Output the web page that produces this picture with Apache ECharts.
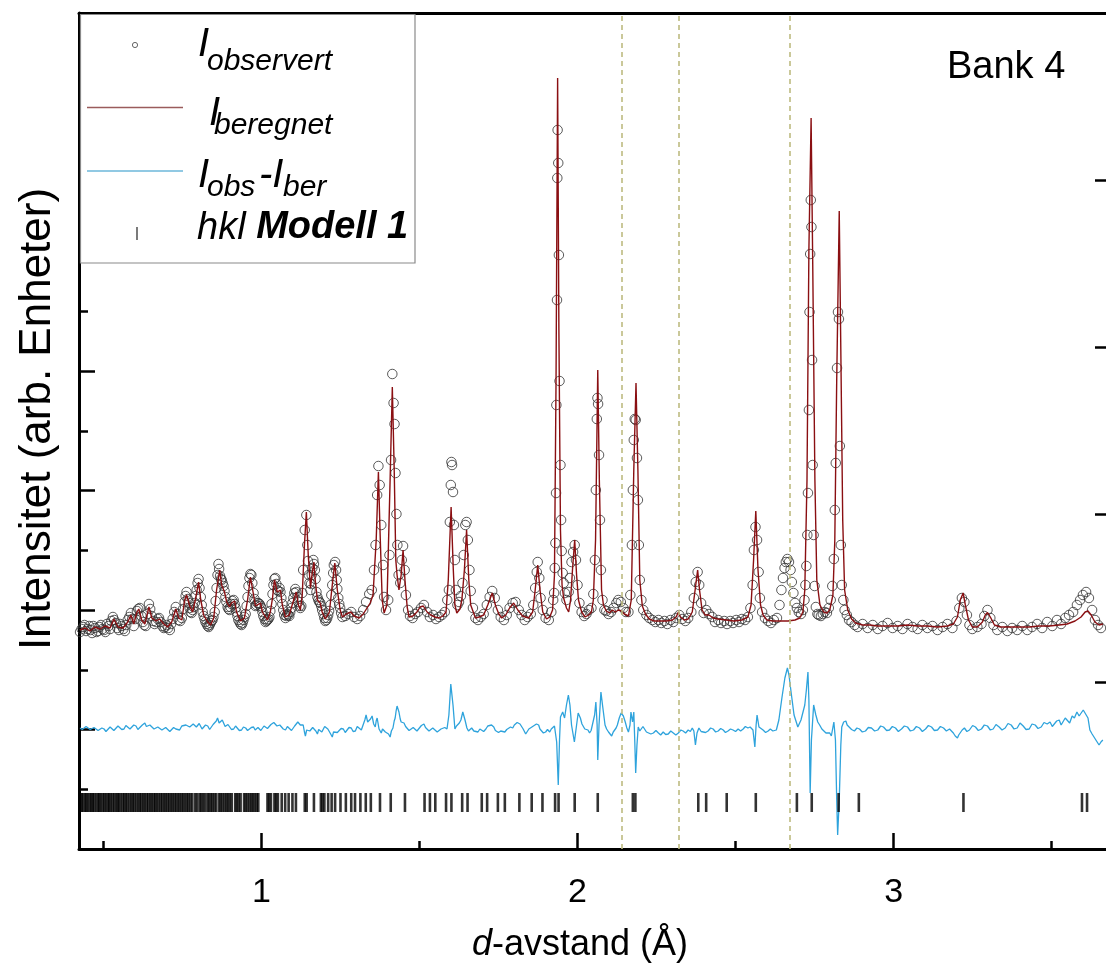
<!DOCTYPE html>
<html>
<head>
<meta charset="utf-8">
<script src="https://cdn.jsdelivr.net/npm/echarts@6/dist/echarts.min.js"></script>
<style>
  html, body { margin: 0; padding: 0; background: #fff; }
  #chart { width: 1106px; height: 966px; }
</style>
</head>
<body>
<div id="chart"></div>
<script>
// Powder diffraction refinement, detector bank 4 (d-spacing in Å, intensity in arbitrary units)
const FONT = '"Liberation Sans", Arial, sans-serif';

const dRange = [0.4227, 3.672];
const dMajorTicks = [1, 2, 3];
const dMinorTicks = [0.5, 1.5, 2.5, 3.5];
const intensityMax = 8360;
const markerPositions = [2.138, 2.317, 2.668];
const hklRowLevel = 465;

// observed intensities [d, I]
const observed = [
[0.426,2170],[0.431,2200],[0.436,2220],[0.440,2240],[0.445,2180],[0.450,2200],[0.455,2230],[0.459,2190],[0.464,2160],[0.468,2230],
[0.473,2210],[0.478,2170],[0.483,2180],[0.487,2220],[0.492,2240],[0.497,2200],[0.502,2190],[0.506,2170],[0.511,2250],[0.516,2230],
[0.521,2200],[0.525,2280],[0.530,2320],[0.534,2290],[0.539,2260],[0.544,2210],[0.549,2190],[0.553,2250],[0.558,2230],[0.563,2200],
[0.568,2180],[0.572,2240],[0.577,2290],[0.582,2320],[0.587,2360],[0.591,2300],[0.596,2230],[0.601,2300],[0.606,2380],[0.610,2400],
[0.615,2410],[0.620,2330],[0.625,2270],[0.629,2240],[0.634,2230],[0.639,2350],[0.644,2450],[0.648,2400],[0.653,2330],[0.658,2280],
[0.662,2250],[0.667,2270],[0.672,2300],[0.676,2310],[0.681,2270],[0.686,2230],[0.691,2210],[0.695,2220],[0.700,2240],[0.705,2210],
[0.710,2190],[0.714,2250],[0.719,2300],[0.724,2370],[0.729,2420],[0.733,2350],[0.738,2290],[0.743,2280],[0.748,2310],[0.752,2400],
[0.757,2470],[0.760,2530],[0.763,2570],[0.767,2500],[0.770,2460],[0.773,2410],[0.776,2370],[0.779,2360],[0.782,2390],[0.785,2420],
[0.789,2460],[0.792,2530],[0.795,2590],[0.798,2660],[0.801,2700],[0.804,2610],[0.808,2520],[0.811,2440],[0.814,2370],[0.817,2330],
[0.820,2300],[0.823,2270],[0.827,2250],[0.830,2230],[0.833,2220],[0.836,2240],[0.839,2260],[0.842,2280],[0.845,2290],[0.848,2320],
[0.852,2370],[0.855,2480],[0.858,2610],[0.861,2740],[0.864,2850],[0.866,2800],[0.869,2730],[0.872,2700],[0.874,2690],[0.877,2660],
[0.880,2630],[0.883,2580],[0.886,2520],[0.889,2470],[0.893,2420],[0.896,2400],[0.899,2390],[0.902,2420],[0.905,2450],[0.908,2480],
[0.912,2490],[0.915,2450],[0.918,2410],[0.921,2370],[0.924,2330],[0.927,2290],[0.931,2270],[0.934,2250],[0.937,2240],[0.940,2260],
[0.943,2290],[0.946,2320],[0.950,2350],[0.953,2430],[0.956,2520],[0.959,2630],[0.962,2710],[0.965,2750],[0.968,2740],[0.971,2660],
[0.975,2560],[0.978,2500],[0.981,2430],[0.984,2440],[0.987,2460],[0.990,2460],[0.994,2450],[0.997,2430],[1.000,2410],[1.003,2370],
[1.006,2330],[1.010,2300],[1.013,2270],[1.016,2280],[1.019,2290],[1.022,2300],[1.025,2320],[1.028,2380],[1.032,2450],[1.035,2550],
[1.038,2640],[1.041,2700],[1.044,2710],[1.047,2650],[1.050,2590],[1.053,2580],[1.057,2610],[1.060,2570],[1.063,2510],[1.066,2450],
[1.069,2390],[1.072,2340],[1.076,2310],[1.079,2330],[1.082,2350],[1.085,2340],[1.088,2330],[1.091,2370],[1.095,2410],[1.098,2460],
[1.101,2510],[1.104,2560],[1.107,2600],[1.110,2570],[1.114,2520],[1.117,2470],[1.120,2430],[1.123,2410],[1.126,2430],[1.129,2560],
[1.132,2790],[1.137,3190],[1.142,3340],[1.145,3040],[1.147,2880],[1.150,2740],[1.152,2660],[1.155,2590],[1.157,2650],[1.159,2740],
[1.161,2810],[1.164,2890],[1.166,2850],[1.169,2790],[1.171,2700],[1.174,2570],[1.177,2520],[1.180,2490],[1.183,2470],[1.186,2460],
[1.189,2430],[1.192,2390],[1.196,2350],[1.199,2310],[1.202,2280],[1.205,2290],[1.208,2310],[1.211,2340],[1.214,2380],[1.218,2440],
[1.221,2540],[1.224,2640],[1.227,2760],[1.229,2840],[1.233,2870],[1.236,2790],[1.238,2690],[1.240,2600],[1.243,2510],[1.246,2450],
[1.249,2410],[1.252,2360],[1.256,2320],
[1.265,2330],[1.274,2350],[1.284,2370],[1.293,2320],[1.303,2300],[1.312,2330],[1.322,2390],[1.331,2470],[1.341,2550],[1.349,2590],
[1.356,2790],[1.361,3040],[1.366,3540],[1.370,3830],[1.374,3640],[1.379,3240],[1.385,2840],[1.388,2520],[1.394,2390],[1.401,2490],
[1.405,2940],[1.410,3890],[1.414,4750],[1.418,4460],[1.421,4250],[1.424,3760],[1.427,3350],[1.430,3040],[1.434,2740],[1.439,2660],
[1.444,2890],[1.448,3030],[1.453,2790],[1.457,2540],[1.464,2390],[1.470,2330],[1.478,2310],[1.486,2350],[1.495,2370],[1.505,2410],
[1.514,2440],[1.524,2370],[1.533,2320],[1.543,2340],[1.552,2300],[1.562,2320],[1.571,2340],[1.580,2370],[1.588,2490],[1.593,2590],
[1.596,3270],[1.599,3640],[1.601,3870],[1.603,3840],[1.606,3570],[1.609,3240],[1.612,2890],[1.615,2590],[1.620,2440],[1.625,2470],
[1.631,2530],[1.636,2660],[1.640,2940],[1.645,3240],[1.649,3270],[1.653,3090],[1.658,2790],[1.662,2580],[1.669,2410],[1.677,2310],
[1.685,2290],[1.694,2320],[1.703,2350],[1.713,2440],[1.722,2520],[1.730,2580],[1.738,2510],[1.748,2390],[1.757,2320],[1.767,2290],
[1.776,2340],[1.785,2410],[1.795,2460],[1.804,2470],[1.814,2390],[1.823,2340],[1.833,2290],[1.842,2320],[1.852,2350],[1.860,2440],
[1.866,2610],[1.871,2770],[1.874,2870],[1.879,2710],[1.883,2510],[1.890,2390],[1.899,2310],[1.909,2290],[1.917,2370],[1.923,2490],
[1.926,2560],[1.928,2810],[1.930,3060],[1.932,3560],[1.933,4440],[1.935,5490],[1.936,6710],[1.937,7190],[1.939,6860],[1.941,5940],
[1.943,4680],[1.946,3840],[1.948,3290],[1.950,2980],[1.953,2760],[1.956,2660],[1.960,2560],[1.965,2490],[1.972,2570],[1.976,2710],
[1.981,2870],[1.986,2970],[1.991,3040],[1.995,2890],[2.000,2640],[2.006,2460],[2.013,2370],[2.021,2330],[2.028,2350],[2.036,2390],
[2.044,2410],[2.050,2550],[2.055,2890],[2.058,3590],[2.061,4300],[2.063,4510],[2.065,4450],[2.068,3940],[2.071,3290],[2.074,2790],
[2.079,2490],[2.085,2390],[2.091,2380],[2.098,2350],[2.106,2370],[2.114,2410],[2.123,2460],[2.129,2490],[2.137,2470],[2.145,2410],
[2.153,2370],[2.161,2370],[2.167,2540],[2.172,3040],[2.175,3590],[2.178,4090],[2.181,4300],[2.184,4290],[2.188,3910],[2.191,3490],
[2.194,3040],[2.197,2690],[2.202,2490],[2.208,2390],[2.218,2340],[2.227,2310],[2.237,2290],[2.246,2270],[2.256,2290],[2.265,2260],
[2.275,2280],[2.284,2250],[2.294,2290],[2.303,2270],[2.312,2310],[2.322,2340],[2.331,2300],[2.341,2280],[2.350,2310],[2.360,2370],
[2.368,2510],[2.374,2670],[2.380,2770],[2.385,2640],[2.391,2460],[2.399,2360],[2.407,2390],[2.416,2350],[2.426,2320],[2.435,2270],
[2.445,2290],[2.454,2260],[2.464,2280],[2.473,2250],[2.483,2280],[2.492,2260],[2.502,2290],[2.511,2270],[2.520,2300],[2.530,2290],
[2.539,2320],[2.547,2410],[2.554,2640],[2.558,2990],[2.563,3220],[2.568,3090],[2.573,2770],[2.577,2510],[2.584,2370],[2.593,2310],
[2.603,2280],[2.612,2260],[2.621,2290],[2.631,2310],[2.639,2440],[2.645,2590],[2.650,2710],[2.655,2810],[2.659,2870],[2.664,2900],
[2.669,2870],[2.674,2790],[2.678,2670],[2.683,2560],[2.688,2460],[2.694,2410],[2.700,2370],[2.707,2350],[2.713,2390],[2.718,2490],
[2.721,2640],[2.724,2830],[2.727,3140],[2.729,3560],[2.732,4390],[2.734,5370],[2.736,5950],[2.738,6490],[2.740,6220],[2.742,4890],
[2.744,3840],[2.747,3140],[2.750,2630],[2.754,2420],[2.759,2350],[2.763,2340],[2.770,2330],[2.776,2350],[2.782,2370],[2.789,2360],
[2.795,2410],[2.801,2490],[2.806,2630],[2.811,2900],[2.814,3390],[2.817,3860],[2.821,4810],[2.824,5370],[2.827,5300],[2.830,4030],
[2.833,3040],[2.836,2640],[2.841,2490],[2.845,2390],[2.852,2340],[2.859,2290],[2.867,2270],[2.877,2240],[2.886,2220],[2.902,2250],
[2.918,2210],[2.934,2240],[2.950,2200],[2.965,2230],[2.981,2260],[2.997,2210],[3.013,2230],[3.028,2200],[3.044,2250],[3.060,2220],
[3.076,2200],[3.091,2240],[3.107,2210],[3.123,2230],[3.139,2190],[3.155,2220],[3.170,2250],[3.186,2210],[3.199,2280],[3.208,2410],
[3.216,2510],[3.224,2470],[3.232,2340],[3.240,2240],[3.249,2200],[3.265,2220],[3.278,2250],[3.287,2330],[3.297,2390],[3.306,2310],
[3.316,2240],[3.328,2190],[3.344,2220],[3.360,2180],[3.375,2210],[3.391,2190],[3.407,2230],[3.423,2190],[3.438,2220],[3.454,2250],
[3.470,2210],[3.486,2270],[3.502,2230],[3.517,2290],[3.530,2250],[3.543,2310],[3.555,2340],[3.568,2370],[3.580,2440],[3.590,2490],
[3.599,2540],[3.609,2570],[3.618,2510],[3.628,2390],[3.637,2290],[3.647,2240],[3.656,2210]
];

// calculated profile [d, I]
const calculated = [
[0.426,2190],[0.442,2210],[0.457,2180],[0.473,2220],[0.489,2200],[0.505,2230],[0.521,2210],[0.533,2300],[0.546,2220],[0.562,2210],
[0.577,2270],[0.587,2340],[0.596,2250],[0.606,2370],[0.612,2400],[0.621,2290],[0.631,2250],[0.644,2420],[0.653,2310],[0.666,2280],
[0.678,2300],[0.691,2250],[0.703,2220],[0.716,2270],[0.729,2400],[0.738,2310],[0.748,2290],[0.757,2490],[0.763,2540],[0.773,2430],
[0.782,2370],[0.792,2510],[0.801,2670],[0.808,2490],[0.817,2340],[0.830,2270],[0.839,2240],[0.849,2310],[0.858,2590],[0.868,2790],
[0.874,2640],[0.883,2570],[0.890,2470],[0.899,2420],[0.905,2460],[0.915,2480],[0.921,2370],[0.934,2280],[0.946,2310],[0.956,2490],
[0.965,2720],[0.975,2540],[0.981,2430],[0.987,2440],[0.997,2460],[1.003,2370],[1.019,2290],[1.028,2370],[1.035,2510],[1.041,2690],
[1.050,2570],[1.060,2590],[1.066,2440],[1.076,2320],[1.088,2340],[1.098,2450],[1.110,2570],[1.117,2440],[1.123,2390],[1.129,2540],
[1.136,3040],[1.142,3370],[1.148,2940],[1.155,2610],[1.161,2770],[1.166,2870],[1.170,2690],[1.177,2490],[1.186,2460],[1.192,2370],
[1.202,2300],[1.215,2370],[1.224,2640],[1.232,2860],[1.240,2590],[1.249,2390],[1.256,2320],
[1.268,2350],[1.283,2370],[1.293,2330],[1.309,2310],[1.322,2350],[1.334,2410],[1.344,2460],[1.353,2540],[1.363,3090],[1.370,3770],
[1.375,3190],[1.382,2490],[1.388,2360],[1.397,2440],[1.407,3690],[1.414,4620],[1.420,3790],[1.425,2890],[1.429,2740],[1.435,2590],
[1.442,2740],[1.448,2990],[1.454,2690],[1.461,2420],[1.467,2320],[1.479,2330],[1.492,2370],[1.502,2420],[1.512,2430],[1.524,2370],
[1.536,2340],[1.549,2320],[1.562,2310],[1.574,2330],[1.584,2370],[1.591,2690],[1.600,3420],[1.607,2790],[1.612,2440],[1.618,2360],
[1.628,2400],[1.634,2490],[1.642,2790],[1.649,3190],[1.656,2690],[1.662,2440],[1.677,2310],[1.688,2320],[1.703,2340],[1.716,2440],
[1.730,2560],[1.741,2430],[1.751,2350],[1.760,2310],[1.773,2340],[1.785,2410],[1.798,2460],[1.811,2390],[1.826,2330],[1.845,2310],
[1.858,2370],[1.866,2590],[1.874,2840],[1.882,2570],[1.890,2370],[1.902,2300],[1.912,2320],[1.921,2390],[1.927,2740],[1.932,4690],
[1.937,7710],[1.941,5190],[1.946,3190],[1.951,2640],[1.956,2510],[1.965,2410],[1.972,2370],[1.978,2490],[1.984,2790],[1.991,3090],
[1.997,2740],[2.003,2490],[2.013,2370],[2.024,2320],
[2.035,2340],[2.044,2370],[2.050,2490],[2.057,3090],[2.064,4790],[2.069,3690],[2.076,2590],[2.082,2440],[2.091,2380],[2.101,2360],
[2.110,2390],[2.120,2370],[2.129,2390],[2.139,2380],[2.148,2350],[2.161,2330],[2.170,2490],[2.178,3790],[2.185,4660],[2.191,3790],
[2.197,2690],[2.205,2430],[2.215,2350],[2.227,2300],[2.243,2280],[2.262,2280],[2.281,2280],[2.300,2290],[2.312,2320],[2.319,2370],
[2.325,2320],[2.338,2290],[2.350,2300],[2.363,2370],[2.372,2590],[2.380,2790],[2.386,2590],[2.394,2390],[2.404,2340],[2.416,2340],
[2.429,2310],[2.445,2300],[2.470,2290],[2.495,2280],[2.520,2290],[2.539,2320],[2.549,2440],[2.557,2890],[2.564,3380],[2.571,2790],
[2.579,2440],[2.587,2340],[2.599,2290],[2.618,2280],[2.640,2280],[2.666,2280],[2.688,2290],[2.703,2310],[2.713,2370],[2.719,2590],
[2.726,3690],[2.732,5990],[2.739,7310],[2.744,5890],[2.751,3690],[2.757,2690],[2.767,2440],[2.779,2370],[2.789,2360],[2.798,2390],
[2.808,2540],[2.814,3090],[2.820,4690],[2.828,6380],[2.833,4990],[2.839,3290],[2.845,2590],[2.855,2390],[2.867,2300],[2.880,2260],
[2.902,2240],[2.924,2240],[2.950,2230],[2.981,2230],[3.013,2230],[3.044,2240],[3.076,2230],[3.107,2230],[3.139,2220],[3.170,2230],
[3.189,2250],[3.202,2320],[3.211,2490],[3.220,2560],[3.227,2440],[3.237,2290],[3.249,2220],[3.265,2220],[3.281,2270],[3.290,2340],
[3.297,2365],[3.306,2320],[3.319,2240],[3.338,2220],[3.366,2220],[3.397,2220],[3.429,2220],[3.461,2230],[3.492,2230],[3.524,2240],
[3.549,2250],[3.574,2280],[3.593,2320],[3.606,2370],[3.615,2380],[3.625,2340],[3.637,2270],[3.650,2240],[3.662,2250]
];

// observed minus calculated, drawn shifted below the pattern [d, I]
const difference = [
[0.426,1210],[0.433,1195],[0.439,1190],[0.445,1225],[0.451,1220],[0.458,1195],[0.464,1180],[0.470,1215],[0.476,1200],[0.483,1185],
[0.489,1170],[0.495,1210],[0.502,1200],[0.508,1175],[0.514,1180],[0.521,1220],[0.527,1210],[0.533,1185],[0.539,1190],[0.546,1230],
[0.552,1220],[0.558,1195],[0.565,1200],[0.571,1235],[0.577,1250],[0.584,1200],[0.590,1210],[0.596,1240],[0.603,1230],[0.609,1195],
[0.615,1200],[0.623,1240],[0.631,1260],[0.636,1225],[0.640,1210],[0.647,1240],[0.653,1230],[0.660,1200],[0.666,1190],[0.672,1220],
[0.678,1210],[0.685,1190],[0.691,1180],[0.697,1215],[0.703,1200],[0.710,1175],[0.716,1180],[0.722,1215],[0.729,1200],[0.735,1185],
[0.741,1190],[0.748,1230],[0.754,1220],[0.761,1240],[0.767,1260],[0.773,1220],[0.779,1200],[0.784,1250],[0.789,1270],[0.794,1220],
[0.798,1210],[0.803,1255],[0.808,1250],[0.812,1200],[0.817,1190],[0.823,1240],[0.830,1230],[0.836,1195],[0.842,1200],[0.847,1245],
[0.852,1250],[0.857,1280],[0.861,1310],[0.866,1260],[0.871,1250],[0.876,1290],[0.880,1270],[0.885,1225],[0.890,1210],[0.894,1245],
[0.899,1230],[0.905,1195],[0.912,1200],[0.918,1230],[0.924,1220],[0.930,1185],[0.937,1190],[0.943,1220],[0.950,1210],[0.956,1185],
[0.962,1180],[0.968,1215],[0.975,1220],[0.980,1190],[0.984,1180],[0.989,1215],[0.994,1210],[0.998,1185],[1.003,1190],[1.008,1230],
[1.013,1230],[1.019,1205],[1.025,1200],[1.030,1245],[1.035,1240],[1.039,1265],[1.044,1280],[1.049,1230],[1.054,1210],[1.058,1240],
[1.063,1230],[1.069,1200],[1.076,1190],[1.082,1225],[1.088,1220],[1.095,1185],[1.101,1190],[1.105,1230],[1.110,1240],[1.115,1270],
[1.120,1290],[1.123,1240],[1.126,1220],[1.129,1250],[1.132,1240],[1.136,1170],[1.139,1130],[1.143,1190],[1.148,1210],[1.153,1180],
[1.158,1170],[1.162,1215],[1.167,1220],[1.172,1180],[1.177,1150],[1.181,1195],[1.186,1200],[1.191,1170],[1.196,1180],[1.200,1225],
[1.205,1230],[1.210,1200],[1.215,1190],[1.219,1150],[1.224,1120],[1.228,1170],[1.233,1190],[1.240,1165],[1.246,1160],[1.252,1205],
[1.259,1200],[1.265,1165],[1.271,1170],[1.277,1215],[1.284,1210],[1.290,1175],[1.297,1180],[1.303,1225],[1.309,1220],[1.316,1190],
[1.322,1200],[1.327,1290],[1.331,1340],[1.336,1270],[1.341,1250],[1.345,1300],[1.350,1330],[1.355,1250],[1.360,1220],[1.363,1280],
[1.366,1310],[1.372,1200],[1.379,1160],[1.383,1200],[1.388,1210],[1.392,1170],[1.397,1180],[1.402,1150],[1.407,1120],[1.411,1180],
[1.416,1210],[1.420,1280],[1.423,1310],[1.426,1380],[1.429,1430],[1.432,1400],[1.435,1370],[1.439,1300],[1.442,1270],[1.446,1280],
[1.451,1260],[1.456,1225],[1.461,1210],[1.467,1185],[1.473,1190],[1.480,1215],[1.486,1200],[1.492,1180],[1.498,1190],[1.506,1235],
[1.514,1250],[1.519,1215],[1.524,1200],[1.530,1180],[1.536,1190],[1.542,1210],[1.549,1190],[1.556,1170],[1.562,1180],[1.568,1200],
[1.574,1190],[1.580,1215],[1.587,1200],[1.593,1340],[1.599,1650],[1.606,1440],[1.612,1200],[1.617,1230],[1.621,1220],[1.626,1260],
[1.631,1290],[1.637,1370],[1.644,1290],[1.650,1210],[1.655,1180],[1.659,1190],[1.665,1210],[1.672,1180],[1.678,1160],[1.685,1170],
[1.691,1200],[1.697,1190],[1.703,1175],[1.710,1200],[1.716,1230],[1.722,1220],[1.728,1240],[1.735,1220],[1.740,1185],[1.744,1200],
[1.750,1165],[1.757,1180],[1.763,1200],[1.770,1170],[1.776,1195],[1.782,1180],[1.788,1220],[1.795,1210],[1.800,1240],[1.804,1260],
[1.809,1265],[1.814,1280],[1.818,1250],[1.823,1230],[1.828,1200],[1.833,1180],[1.836,1150],[1.839,1160],[1.846,1200],[1.852,1190],
[1.858,1225],[1.864,1210],[1.870,1250],[1.877,1240],[1.881,1200],[1.886,1190],[1.892,1160],[1.899,1170],[1.905,1195],[1.912,1170],
[1.917,1200],[1.921,1210],[1.927,1230],[1.934,1070],[1.939,640],[1.943,1090],[1.946,1320],[1.953,1370],[1.959,1310],[1.965,1440],
[1.971,1540],[1.976,1440],[1.981,1240],[1.990,1070],[1.997,1240],[2.002,1360],[2.009,1310],[2.014,1250],[2.019,1230],[2.023,1200],
[2.028,1180],[2.033,1190],[2.038,1160],[2.043,1185],[2.047,1170],[2.054,1340],[2.058,1470],[2.062,1240],[2.064,890],[2.068,1240],
[2.074,1570],[2.079,1440],[2.087,1240],[2.092,1200],[2.098,1170],[2.103,1150],[2.108,1130],[2.113,1170],[2.117,1160],[2.122,1210],
[2.126,1240],[2.132,1310],[2.138,1360],[2.145,1330],[2.151,1270],[2.156,1210],[2.161,1170],[2.166,1240],[2.169,1370],[2.174,1270],
[2.178,1370],[2.181,1090],[2.184,760],[2.188,1040],[2.192,1220],[2.197,1180],[2.202,1190],[2.207,1225],[2.211,1210],[2.218,1170],
[2.224,1180],[2.232,1150],[2.240,1160],[2.248,1185],[2.256,1160],[2.263,1140],[2.271,1170],[2.279,1145],[2.287,1150],[2.295,1180],
[2.303,1160],[2.311,1140],[2.319,1160],[2.327,1190],[2.334,1180],[2.342,1160],[2.350,1190],[2.357,1175],[2.363,1210],[2.368,1180],
[2.373,1040],[2.378,1160],[2.384,1210],[2.391,1175],[2.397,1190],[2.405,1165],[2.413,1180],[2.421,1210],[2.429,1200],[2.437,1170],
[2.445,1180],[2.453,1205],[2.461,1190],[2.468,1165],[2.476,1180],[2.484,1200],[2.492,1190],[2.500,1175],[2.508,1200],[2.516,1180],
[2.524,1200],[2.531,1225],[2.539,1210],[2.546,1220],[2.555,1190],[2.561,1020],[2.565,1240],[2.568,1340],[2.574,1220],[2.580,1200],
[2.587,1190],[2.595,1165],[2.603,1180],[2.610,1200],[2.618,1180],[2.624,1170],[2.629,1190],[2.637,1290],[2.647,1520],[2.656,1710],
[2.664,1810],[2.669,1740],[2.676,1560],[2.685,1340],[2.697,1220],[2.707,1290],[2.719,1440],[2.724,1590],[2.729,1770],[2.732,1490],
[2.736,560],[2.740,1090],[2.747,1440],[2.754,1340],[2.760,1270],[2.766,1240],[2.773,1200],[2.779,1180],[2.786,1160],[2.792,1140],
[2.798,1160],[2.803,1130],[2.811,1270],[2.816,1090],[2.820,490],[2.823,140],[2.828,490],[2.833,1040],[2.836,1220],[2.842,1270],
[2.849,1280],[2.853,1240],[2.858,1220],[2.867,1195],[2.876,1180],[2.884,1210],[2.892,1200],[2.901,1170],[2.911,1180],[2.920,1215],
[2.930,1210],[2.940,1180],[2.950,1190],[2.959,1230],[2.968,1220],[2.978,1185],[2.987,1190],[2.996,1225],[3.006,1210],[3.015,1175],
[3.025,1200],[3.034,1230],[3.044,1220],[3.053,1180],[3.063,1190],[3.072,1225],[3.082,1210],[3.091,1175],[3.101,1200],[3.110,1235],
[3.120,1220],[3.129,1185],[3.139,1190],[3.148,1225],[3.158,1210],[3.167,1180],[3.177,1200],[3.183,1185],[3.189,1160],[3.195,1130],
[3.202,1110],[3.206,1140],[3.211,1160],[3.217,1190],[3.224,1210],[3.232,1175],[3.240,1190],[3.250,1235],[3.259,1220],[3.268,1185],
[3.278,1200],[3.287,1240],[3.297,1230],[3.306,1190],[3.315,1200],[3.324,1245],[3.334,1220],[3.343,1190],[3.353,1210],[3.362,1255],
[3.372,1240],[3.381,1200],[3.391,1210],[3.400,1260],[3.410,1230],[3.419,1195],[3.429,1200],[3.438,1250],[3.448,1240],[3.457,1205],
[3.467,1220],[3.476,1265],[3.486,1250],[3.495,1270],[3.502,1225],[3.508,1240],[3.516,1280],[3.524,1290],[3.530,1240],[3.536,1250],
[3.543,1310],[3.549,1300],[3.557,1260],[3.565,1330],[3.572,1310],[3.580,1370],[3.587,1330],[3.593,1350],[3.600,1390],[3.606,1380],
[3.615,1310],[3.621,1190],[3.628,1150],[3.634,1120],[3.642,1080],[3.650,1040],[3.656,1070],[3.662,1090]
];

// reflection positions of the structure model (d, Å)
const hklPositions = [
0.427,0.431,0.436,0.442,0.446,0.451,0.457,0.462,0.466,0.471,0.477,0.483,0.487,0.492,0.498,0.503,0.508,0.514,0.518,0.523,
0.529,0.534,0.540,0.545,0.549,0.555,0.561,0.566,0.571,0.576,0.582,0.588,0.593,0.598,0.604,0.610,0.615,0.620,0.626,0.631,
0.637,0.642,0.648,0.653,0.659,0.664,0.669,0.675,0.681,0.686,0.692,0.697,0.703,0.708,0.714,0.719,0.725,0.730,0.736,0.741,
0.747,0.752,0.758,0.764,0.769,0.775,0.781,0.790,0.796,0.804,0.809,0.815,0.821,0.829,0.834,0.840,0.845,0.851,0.857,0.866,
0.871,0.877,0.883,0.889,0.894,0.900,0.906,0.917,0.922,0.928,0.934,0.945,0.950,0.956,0.962,0.968,0.973,0.979,0.985,0.990,
1.019,1.024,1.030,1.041,1.046,1.052,1.064,1.075,1.086,1.098,1.109,1.137,1.143,1.166,1.188,1.193,1.199,1.211,1.222,1.233,
1.250,1.267,1.284,1.296,1.313,1.330,1.346,1.375,1.409,1.454,1.516,1.533,1.550,1.584,1.601,1.635,1.652,1.697,1.714,1.748,
1.770,1.816,1.855,1.889,1.929,1.940,1.991,2.064,2.175,2.183,2.382,2.407,2.472,2.564,2.694,2.741,2.826,2.890,3.221,3.596,3.612
];

const chart = echarts.init(document.getElementById('chart'), null, { renderer: 'canvas' });

const axisBlack = { color: '#000', width: 3 };
const hiddenAxisParts = { axisLabel: { show: false }, splitLine: { show: false } };

const option = {
  animation: false,
  backgroundColor: '#fff',
  grid: { left: 79, right: -3, top: 13, bottom: 117, containLabel: false },
  xAxis: [
    {
      type: 'value', min: dRange[0], max: dRange[1], position: 'bottom',
      axisLine: { show: true, onZero: false, lineStyle: axisBlack },
      axisTick: { show: true, inside: true, length: 16, customValues: dMajorTicks, lineStyle: { color: '#000', width: 2.5 } },
      axisLabel: { show: true, customValues: dMajorTicks, fontSize: 34, fontFamily: FONT, color: '#000', margin: 27 },
      splitLine: { show: false }
    },
    {
      type: 'value', min: dRange[0], max: dRange[1], position: 'bottom',
      axisLine: { show: false },
      axisTick: { show: true, inside: true, length: 8, customValues: dMinorTicks, lineStyle: { color: '#000', width: 2.5 } },
      ...hiddenAxisParts
    },
    {
      type: 'value', min: dRange[0], max: dRange[1], position: 'top',
      axisLine: { show: true, onZero: false, lineStyle: axisBlack },
      axisTick: { show: false },
      ...hiddenAxisParts
    }
  ],
  yAxis: [
    {
      type: 'value', min: 0, max: intensityMax, interval: intensityMax / 7, position: 'left',
      axisLine: { show: true, onZero: false, lineStyle: axisBlack },
      axisTick: { show: true, inside: true, length: 16, lineStyle: { color: '#000', width: 2.5 } },
      minorTick: { show: true, splitNumber: 2, length: 9, lineStyle: { color: '#000', width: 2.5 } },
      minorSplitLine: { show: false },
      ...hiddenAxisParts
    },
    {
      type: 'value', min: 0, max: 5, interval: 1, position: 'right',
      axisLine: { show: false },
      axisTick: { show: true, inside: true, length: 11, lineStyle: { color: '#000', width: 2.5 } },
      ...hiddenAxisParts
    }
  ],
  series: [
    {
      name: 'observert', type: 'scatter', data: observed,
      symbol: 'circle', symbolSize: 9.5, z: 2,
      itemStyle: { color: 'rgba(0,0,0,0)', borderColor: '#333', borderWidth: 0.95, opacity: 0.85 },
      emphasis: { disabled: true }
    },
    {
      name: 'beregnet', type: 'line', data: calculated, showSymbol: false, z: 3,
      lineStyle: { color: '#8a0f12', width: 1.4 },
      emphasis: { disabled: true },
      markLine: {
        silent: true, symbol: 'none', label: { show: false },
        lineStyle: { type: [5, 4], color: '#bdbb80', width: 1.6, opacity: 1 },
        data: markerPositions.map(d => ({ xAxis: d }))
      }
    },
    {
      name: 'differanse', type: 'line', data: difference, showSymbol: false, z: 3,
      lineStyle: { color: '#2ea3dc', width: 1.3 },
      emphasis: { disabled: true }
    },
    {
      name: 'hkl', type: 'scatter', data: hklPositions.map(d => [d, hklRowLevel]),
      symbol: 'rect', symbolSize: [2.6, 19], z: 4,
      itemStyle: { color: '#000' },
      emphasis: { disabled: true }
    }
  ],
  graphic: [
    // legend box
    { type: 'rect', z: 100, shape: { x: 80.5, y: 14.5, width: 334.5, height: 248.5 },
      style: { fill: '#fff', stroke: '#8a8a8a', lineWidth: 1.2 } },
    { type: 'circle', z: 101, shape: { cx: 135, cy: 45, r: 2.6 },
      style: { fill: 'none', stroke: '#555', lineWidth: 0.9 } },
    { type: 'line', z: 101, shape: { x1: 87, y1: 107.5, x2: 183, y2: 107.5 },
      style: { stroke: '#9a5c5c', lineWidth: 1.3 } },
    { type: 'line', z: 101, shape: { x1: 87, y1: 171, x2: 183, y2: 171 },
      style: { stroke: '#6cb7da', lineWidth: 1.3 } },
    { type: 'line', z: 101, shape: { x1: 137, y1: 227, x2: 137, y2: 240 },
      style: { stroke: '#333', lineWidth: 1.3 } },
    { type: 'text', z: 101, x: 198, y: 45,
      style: { text: 'I', fontSize: 40, fontStyle: 'italic', fontFamily: FONT, fill: '#000', verticalAlign: 'middle' } },
    { type: 'text', z: 101, x: 207, y: 62,
      style: { text: 'observert', fontSize: 30, fontStyle: 'italic', fontFamily: FONT, fill: '#000', verticalAlign: 'middle' } },
    { type: 'text', z: 101, x: 209, y: 114,
      style: { text: 'I', fontSize: 40, fontStyle: 'italic', fontFamily: FONT, fill: '#000', verticalAlign: 'middle' } },
    { type: 'text', z: 101, x: 214, y: 126,
      style: { text: 'beregnet', fontSize: 30, fontStyle: 'italic', fontFamily: FONT, fill: '#000', verticalAlign: 'middle' } },
    { type: 'text', z: 101, x: 198, y: 176,
      style: { text: 'I', fontSize: 40, fontStyle: 'italic', fontFamily: FONT, fill: '#000', verticalAlign: 'middle' } },
    { type: 'text', z: 101, x: 207, y: 188,
      style: { text: 'obs', fontSize: 30, fontStyle: 'italic', fontFamily: FONT, fill: '#000', verticalAlign: 'middle' } },
    { type: 'text', z: 101, x: 259, y: 176,
      style: { text: '-I', fontSize: 40, fontStyle: 'italic', fontFamily: FONT, fill: '#000', verticalAlign: 'middle' } },
    { type: 'text', z: 101, x: 283, y: 188,
      style: { text: 'ber', fontSize: 30, fontStyle: 'italic', fontFamily: FONT, fill: '#000', verticalAlign: 'middle' } },
    { type: 'text', z: 101, x: 197, y: 228,
      style: {
        text: '{a|hkl }{b|Modell 1}', verticalAlign: 'middle',
        rich: {
          a: { fontSize: 38, fontStyle: 'italic', fontFamily: FONT, color: '#000' },
          b: { fontSize: 38, fontStyle: 'italic', fontWeight: 'bold', fontFamily: FONT, color: '#000' }
        }
      } },
    // panel label
    { type: 'text', z: 101, x: 947, y: 68,
      style: { text: 'Bank 4', fontSize: 38, fontFamily: FONT, fill: '#000', verticalAlign: 'middle' } },
    // axis titles
    { type: 'text', z: 101, x: 38, y: 419, rotation: Math.PI / 2,
      style: { text: 'Intensitet (arb. Enheter)', fontSize: 44, fontFamily: FONT, fill: '#000', align: 'center', verticalAlign: 'middle' } },
    { type: 'text', z: 101, x: 580, y: 945,
      style: {
        text: '{it|d}-avstand (Å)', align: 'center', verticalAlign: 'middle',
        rich: {
          it: { fontSize: 36, fontStyle: 'italic', fontFamily: FONT, color: '#000' },
        },
        fontSize: 36, fontFamily: FONT, fill: '#000'
      } }
  ]
};

chart.setOption(option);
</script>
</body>
</html>
